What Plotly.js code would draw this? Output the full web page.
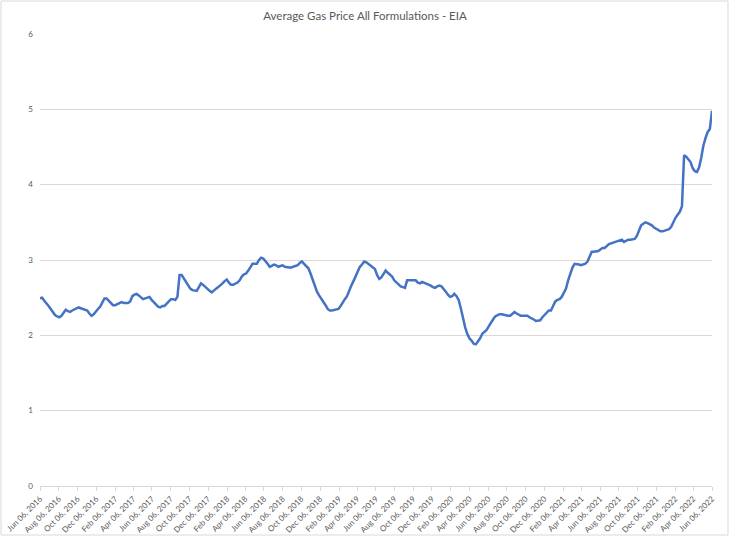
<!DOCTYPE html>
<html>
<head>
<meta charset="utf-8">
<script src="https://cdn.plot.ly/plotly-3.0.1.min.js"></script>
<style>
html,body{margin:0;padding:0;background:#fff;}
#chart{width:730px;height:537px;}
</style>
</head>
<body>
<div id="chart"></div>
<script>
// Weekly series start (Monday) and chart text
const startDate = "2016-06-06";
const chartTitle = "Average Gas Price All Formulations - EIA";

// Weekly average gas price ($/gal)
const prices2016_17 = [2.49,2.50,2.46,2.43,2.39,2.35,2.31,2.27,2.25,2.24,2.26,2.30,2.34,2.32,2.31,2.33,2.34,2.36,2.37,2.36,2.35,2.34,2.33,2.29,2.26,2.28,2.32,2.35,2.38,2.43,2.49,2.49,2.46,2.43,2.40,2.40,2.41,2.42,2.44,2.43,2.43,2.43,2.45,2.52,2.54,2.55,2.53,2.50,2.48,2.49,2.50,2.51];
const prices2017_18 = [2.47,2.44,2.41,2.38,2.37,2.39,2.39,2.42,2.46,2.48,2.48,2.47,2.51,2.80,2.80,2.75,2.70,2.66,2.62,2.60,2.59,2.59,2.64,2.69,2.67,2.64,2.61,2.59,2.57,2.60,2.62,2.64,2.66,2.69,2.72,2.74,2.70,2.67,2.67,2.68,2.70,2.73,2.78,2.81,2.82,2.86,2.90,2.95,2.95,2.95,3.00];
const prices2018_20 = [3.03,3.02,2.99,2.95,2.91,2.92,2.94,2.93,2.91,2.92,2.93,2.91,2.90,2.90,2.90,2.91,2.92,2.93,2.96,2.98,2.95,2.92,2.89,2.82,2.74,2.66,2.58,2.53,2.49,2.45,2.40,2.35,2.33,2.33,2.34,2.34,2.35,2.39,2.44,2.48,2.52,2.60,2.66,2.72,2.79,2.86,2.91,2.94,2.98,2.97,2.95,2.93,2.91,2.88,2.80,2.75,2.77,2.82,2.86,2.83,2.81,2.78,2.73,2.70,2.67,2.65,2.64,2.63,2.73,2.73,2.73,2.72,2.73,2.70,2.69,2.71,2.70,2.68,2.67,2.66,2.64,2.63,2.65,2.66,2.65,2.62,2.58,2.54,2.51,2.52,2.55,2.52,2.47,2.36,2.23,2.11,2.02,1.96,1.93,1.89,1.88,1.92];
const prices2020_22 = [1.96,2.02,2.05,2.07,2.12,2.17,2.21,2.25,2.27,2.28,2.28,2.27,2.27,2.26,2.26,2.28,2.31,2.29,2.27,2.26,2.26,2.26,2.26,2.24,2.23,2.21,2.19,2.19,2.20,2.24,2.27,2.31,2.33,2.33,2.38,2.45,2.47,2.48,2.51,2.56,2.62,2.73,2.82,2.90,2.95,2.95,2.94,2.93,2.94,2.95,2.98,3.05,3.11,3.11,3.11,3.12,3.14,3.16,3.16,3.19,3.21,3.22,3.23,3.24,3.25,3.26,3.27,3.24,3.26,3.27,3.27,3.27,3.28,3.32,3.40,3.46,3.48,3.50,3.49,3.48,3.46,3.43,3.41,3.39,3.38,3.38,3.39,3.40,3.41,3.44,3.51,3.56,3.60,3.64,3.71,4.39,4.37,4.34,4.30,4.22,4.18,4.17,4.23,4.36,4.52,4.62,4.70,4.74,4.98];

const prices = [].concat(prices2016_17, prices2017_18, prices2018_20, prices2020_22);

// weekly date categories
function addDays(iso, n){
  const d = new Date(iso + "T00:00:00Z");
  d.setUTCDate(d.getUTCDate() + n);
  return d.toISOString().slice(0,10);
}
const weeks = prices.map((_, i) => addDays(startDate, 7*i));

const gridCol = "#d9d9d9";
const textCol = "#595959";
const fontFam = "Lato, 'Liberation Sans', sans-serif";

const trace = {
  type: "scatter",
  mode: "lines",
  x: weeks,
  y: prices,
  line: {color: "#4472C4", width: 2.5},
  hoverinfo: "x+y"
};

const layout = {
  width: 730, height: 537,
  margin: {l: 40, r: 18, t: 34, b: 51},
  paper_bgcolor: "#ffffff",
  plot_bgcolor: "#ffffff",
  showlegend: false,
  title: {text: chartTitle, x: 0.5, xanchor: "center", y: 0.971, yanchor: "middle",
          font: {family: fontFam, size: 11.5, color: textCol}},
  xaxis: {
    type: "date",
    range: [startDate, weeks[weeks.length-1]],
    tick0: startDate, dtick: "M2", tickformat: "%b %d, %Y",
    tickangle: -45,
    tickfont: {family: fontFam, size: 8, color: textCol},
    showgrid: false, zeroline: false,
    showline: true, linecolor: gridCol, linewidth: 1,
    ticks: "outside", ticklen: 4, tickcolor: gridCol
  },
  yaxis: {
    range: [0, 6], dtick: 1,
    tickfont: {family: fontFam, size: 8, color: textCol},
    showgrid: true, gridcolor: gridCol, gridwidth: 1,
    zeroline: false, showline: false, ticks: "", ticklen: 0,
    ticklabelstandoff: 6
  },
  shapes: [{
    type: "rect", xref: "paper", yref: "paper",
    x0: (1-40)/672, x1: (728-40)/672, y0: (486-535)/452, y1: (486-1)/452,
    line: {color: gridCol, width: 1}, fillcolor: "rgba(0,0,0,0)", layer: "below"
  }]
};

Plotly.newPlot("chart", [trace], layout, {displayModeBar: false, staticPlot: true});
</script>
</body>
</html>
